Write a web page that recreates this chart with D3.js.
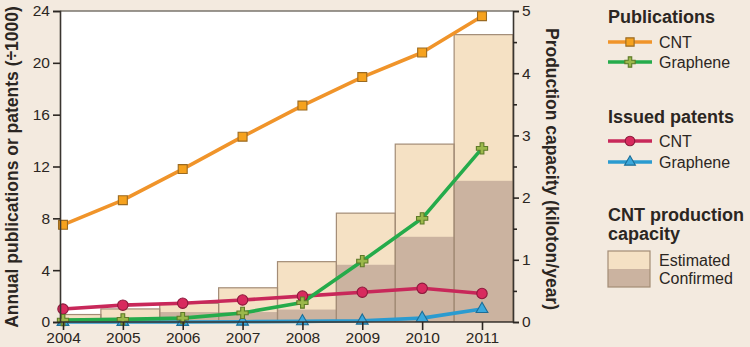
<!DOCTYPE html>
<html><head><meta charset="utf-8">
<script src="https://cdn.jsdelivr.net/npm/d3@7"></script>
<style>
html,body{margin:0;padding:0;background:#f3eadf;}
svg{display:block;font-family:"Liberation Sans",Arial,sans-serif;}
</style></head>
<body><svg id="c" width="750" height="347"></svg>
<script>
const years = [2004,2005,2006,2007,2008,2009,2010,2011];
const pubCNT = [7.5,9.4,11.8,14.3,16.7,18.9,20.8,23.6];
const pubGraphene = [0.15,0.2,0.3,0.7,1.5,4.7,8.0,13.4];
const patCNT = [1.0,1.3,1.45,1.7,2.0,2.3,2.6,2.2];
const patGraphene = [0,0,0,0.02,0.05,0.1,0.3,1.0];
const capEstimated = [0.12,0.21,0.3,0.55,0.97,1.75,2.86,4.62];
const capConfirmed = [0.06,0.07,0.16,0.16,0.2,0.92,1.37,2.27];
const leftTicks = [0,4,8,12,16,20,24];
const rightTicks = [0,1,2,3,4,5];

const svg = d3.select("#c");
const L = 60, R = 513, T = 11, B = 322;
const x = d3.scaleLinear().domain([2004,2011]).range([63,482]);
const xb = d3.scaleBand().domain(years).range([42,513]).padding(0);
const yL = d3.scaleLinear().domain([0,24]).range([B,T]);
const yR = d3.scaleLinear().domain([0,5]).range([B,T]);

svg.append("defs").append("clipPath").attr("id","clip")
  .append("rect").attr("x",L).attr("y",T).attr("width",R-L).attr("height",B-T);

svg.append("rect").attr("x",L).attr("y",T).attr("width",R-L).attr("height",B-T).attr("fill","#fff");

const gb = svg.append("g").attr("clip-path","url(#clip)");
gb.selectAll(".est").data(years).join("rect")
  .attr("x",d=>xb(d)).attr("width",xb.bandwidth())
  .attr("y",(d,i)=>yR(capEstimated[i])).attr("height",(d,i)=>B-yR(capEstimated[i]))
  .attr("fill","#f5e1c4");
gb.selectAll(".conf").data(years).join("rect")
  .attr("x",d=>xb(d)).attr("width",xb.bandwidth())
  .attr("y",(d,i)=>yR(capConfirmed[i])).attr("height",(d,i)=>B-yR(capConfirmed[i]))
  .attr("fill","#cbb3a0");
gb.selectAll(".out").data(years).join("rect")
  .attr("x",d=>xb(d)).attr("width",xb.bandwidth())
  .attr("y",(d,i)=>yR(capEstimated[i])).attr("height",(d,i)=>B-yR(capEstimated[i]))
  .attr("fill","none").attr("stroke","#a38c76").attr("stroke-width",1.2);

// top border
svg.append("line").attr("x1",L).attr("x2",R).attr("y1",T).attr("y2",T).attr("stroke","#7a746c").attr("stroke-width",1.3);

const series = [
  {vals:patGraphene, color:"#2a9bd0", fill:"#3aa8dc", stroke:"#1d6d96", sym:d3.symbolTriangle, size:60},
  {vals:patCNT, color:"#c8285a", fill:"#d82a5e", stroke:"#8c1a3c", sym:d3.symbolCircle, size:85},
  {vals:pubGraphene, color:"#25ab4b", fill:"#9bb84a", stroke:"#5d7a28", sym:d3.symbolCross, size:70},
  {vals:pubCNT, color:"#f0942a", fill:"#f6a21e", stroke:"#9a6a22", sym:d3.symbolSquare, size:80}
];
const line = d3.line().x((d,i)=>x(years[i])).y(d=>yL(d));
series.forEach(s=>{
  svg.append("path").datum(s.vals).attr("d",line).attr("fill","none")
    .attr("stroke",s.color).attr("stroke-width",3.6).attr("stroke-linejoin","round");
});
series.forEach(s=>{
  svg.append("g").selectAll("path").data(s.vals).join("path")
    .attr("transform",(d,i)=>`translate(${x(years[i])},${yL(d)})`)
    .attr("d",d3.symbol().type(s.sym).size(s.size))
    .attr("fill",s.fill).attr("stroke",s.stroke).attr("stroke-width",1.1);
});

// axes
const axL = svg.append("g").attr("transform",`translate(${L},0)`)
  .call(d3.axisLeft(yL).tickValues(leftTicks).tickSize(7).tickPadding(3));
const axB = svg.append("g").attr("transform",`translate(0,${B})`)
  .call(d3.axisBottom(x).tickValues(years).tickFormat(d3.format("d")).tickSize(8).tickPadding(2));
const axR = svg.append("g").attr("transform",`translate(${R},0)`)
  .call(d3.axisRight(yR).tickValues(rightTicks).tickFormat(d3.format("d")).tickSize(6).tickPadding(3));
svg.append("g").attr("transform",`translate(${R},0)`)
  .call(d3.axisRight(yR).tickValues([0.5,1.5,2.5,3.5,4.5]).tickSize(4).tickFormat(""))
  .select(".domain").remove();
axB.select(".domain").attr("d",`M${L},0H${R}`);
[axL,axB,axR].forEach(a=>{
  a.select(".domain").attr("stroke","#3a3530").attr("stroke-width",1.6);
  a.selectAll(".tick text").attr("font-size",15.5).attr("fill","#2b2622").attr("font-family","Liberation Sans, Arial, sans-serif");
});
svg.selectAll(".tick line").attr("stroke","#2b2622").attr("stroke-width",1.6);

// axis titles
svg.append("text").attr("transform","translate(18,167) rotate(-90)")
  .attr("text-anchor","middle").attr("font-size",17.5).attr("font-weight","bold").attr("fill","#2b2622")
  .text("Annual publications or patents (÷1000)");
svg.append("text").attr("transform","translate(546,169) rotate(90)")
  .attr("text-anchor","middle").attr("font-size",17.5).attr("font-weight","bold").attr("fill","#2b2622")
  .text("Production capacity (kiloton/year)");

// legend
const lg = svg.append("g");
const head = (t,y)=>lg.append("text").attr("x",608).attr("y",y).attr("font-size",18).attr("font-weight","bold").attr("fill","#2b2622").text(t);
const item = (s,label,y,ty)=>{
  lg.append("line").attr("x1",608).attr("x2",652).attr("y1",y).attr("y2",y).attr("stroke",s.color).attr("stroke-width",3.6);
  lg.append("path").attr("transform",`translate(630,${y})`).attr("d",d3.symbol().type(s.sym).size(s.size*0.85)())
    .attr("fill",s.fill).attr("stroke",s.stroke).attr("stroke-width",1.1);
  lg.append("text").attr("x",659).attr("y",ty).attr("font-size",16).attr("fill","#2b2622").text(label);
};
head("Publications",23);
item(series[3],"CNT",42,47.5);
item(series[2],"Graphene",62,68);
head("Issued patents",123);
item(series[1],"CNT",141,146.5);
item(series[0],"Graphene",162,168);
head("CNT production",221);
head("capacity",240);
lg.append("rect").attr("x",608).attr("y",251).attr("width",42).attr("height",18).attr("fill","#f5e1c4");
lg.append("rect").attr("x",608).attr("y",269).attr("width",42).attr("height",18).attr("fill","#cbb3a0");
lg.append("rect").attr("x",608).attr("y",251).attr("width",42).attr("height",36).attr("fill","none").attr("stroke","#a38c76").attr("stroke-width",1.2);
lg.append("text").attr("x",659).attr("y",266).attr("font-size",16).attr("fill","#2b2622").text("Estimated");
lg.append("text").attr("x",659).attr("y",284).attr("font-size",16).attr("fill","#2b2622").text("Confirmed");
</script></body></html>
